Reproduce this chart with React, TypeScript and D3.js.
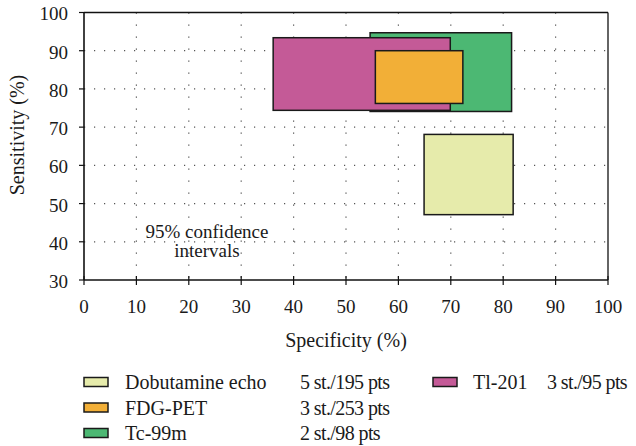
import * as d3 from 'd3';

// 95% CI rectangles (specificity x sensitivity)
const methods = ['Dobutamine echo', 'Tc-99m', 'Tl-201', 'FDG-PET'];
const specLow = [64.9, 54.6, 36.1, 55.6];
const specHigh = [81.9, 81.6, 69.9, 72.3];
const sensLow = [47.1, 74.1, 74.4, 76.2];
const sensHigh = [68.1, 94.7, 93.4, 90.0];
const colors = ['#e6ebab', '#4cb873', '#c45a97', '#f2af37'];

const legendOrder = ['Dobutamine echo', 'FDG-PET', 'Tc-99m', 'Tl-201'];
const legendStudies = ['5 st./195 pts', '3 st./253 pts', '2 st./98 pts', '3 st./95 pts'];

const xTicks = [0, 10, 20, 30, 40, 50, 60, 70, 80, 90, 100];
const yTicks = [30, 40, 50, 60, 70, 80, 90, 100];

const W = 636, H = 446;
const txt = { fontFamily: "'Liberation Serif', serif" };

const App = () => {
    let margin = { left: 84, right: 608, top: 12.5, bottom: 280 };
    let x = d3.scaleLinear().domain([0, 100]).range([margin.left, margin.right]);
    let y = d3.scaleLinear().domain([30, 100]).range([margin.bottom, margin.top]);

    const colorOf = (name: string) => colors[methods.indexOf(name)];

    // legend layout: first three in left column, last one at right
    const legendPos = (i: number) => {
        if (i < 3) return { sx: 84, lx: 125, tx: 300, by: 389 + i * 25.5 };
        return { sx: 433, lx: 473, tx: 547, by: 389 };
    };

    return (
        <svg width={W} height={H} style={{ position: 'absolute', left: 0, top: 0 }}>
            <rect x={0} y={0} width={W} height={H} fill="#fff" />

            {/* dotted grid */}
            {xTicks.filter((t) => t > 0 && t < 100).map((t) => (
                <line key={'gx' + t} x1={x(t)} x2={x(t)} y1={y(100)} y2={y(30)}
                    stroke="#555" strokeWidth={1.2} strokeDasharray="1.2,10.8" />
            ))}
            {yTicks.filter((t) => t > 30 && t < 100).map((t) => (
                <line key={'gy' + t} x1={x(0)} x2={x(100)} y1={y(t)} y2={y(t)}
                    stroke="#555" strokeWidth={1.2} strokeDasharray="1.2,8.8" />
            ))}

            {/* CI boxes */}
            {methods.map((m, i) => (
                <rect key={m}
                    x={x(specLow[i])} y={y(sensHigh[i])}
                    width={x(specHigh[i]) - x(specLow[i])}
                    height={y(sensLow[i]) - y(sensHigh[i])}
                    fill={colors[i]} stroke="#1a1a1a" strokeWidth={1.5} />
            ))}

            {/* frame */}
            <line x1={x(0)} x2={x(100)} y1={y(100)} y2={y(100)} stroke="#111" strokeWidth={1.3} />
            <line x1={x(100)} x2={x(100)} y1={y(100)} y2={y(30)} stroke="#111" strokeWidth={1.3} />
            <line x1={x(0)} x2={x(100)} y1={y(30)} y2={y(30)} stroke="#111" strokeWidth={1.6} />
            <line x1={x(0)} x2={x(0)} y1={y(100)} y2={y(30)} stroke="#111" strokeWidth={1.6} />

            {/* x axis */}
            {xTicks.map((t) => (
                <g key={'xt' + t}>
                    <line x1={x(t)} x2={x(t)} y1={y(30) - 4} y2={y(30) + 5} stroke="#111" strokeWidth={1.2} />
                    <text x={x(t)} y={313} textAnchor="middle" fontSize={19} fill="#1a1a1a" style={txt}>{t}</text>
                </g>
            ))}
            {/* y axis */}
            {yTicks.map((t) => (
                <g key={'yt' + t}>
                    <line x1={x(0) - 5} x2={x(0)} y1={y(t)} y2={y(t)} stroke="#111" strokeWidth={1.2} />
                    <text x={68} y={y(t)} dy="0.42em" textAnchor="end" fontSize={19} fill="#1a1a1a" style={txt}>{t}</text>
                </g>
            ))}

            <text x={(x(0) + x(100)) / 2} y={347} textAnchor="middle" fontSize={20} fill="#1a1a1a" style={txt}>Specificity (%)</text>
            <text transform={`translate(24,135) rotate(-90)`} textAnchor="middle" fontSize={20} fill="#1a1a1a" style={txt}>Sensitivity (%)</text>

            <text x={207} y={238} textAnchor="middle" fontSize={19} fill="#1a1a1a" style={txt}>
                <tspan x={207} y={238}>95% confidence</tspan>
                <tspan x={207} y={256.5}>intervals</tspan>
            </text>

            {/* legend */}
            {legendOrder.map((m, i) => {
                const p = legendPos(i);
                return (
                    <g key={'lg' + m}>
                        <rect x={p.sx} y={p.by - 11.5} width={24} height={9} fill={colorOf(m)} stroke="#1a1a1a" strokeWidth={1.5} />
                        <text x={p.lx} y={p.by} fontSize={20} fill="#1a1a1a" style={txt}>{m}</text>
                        <text x={p.tx} y={p.by} fontSize={20} fill="#1a1a1a" letterSpacing={-0.6} style={txt}>{legendStudies[i]}</text>
                    </g>
                );
            })}
        </svg>
    );
};

export default App;
